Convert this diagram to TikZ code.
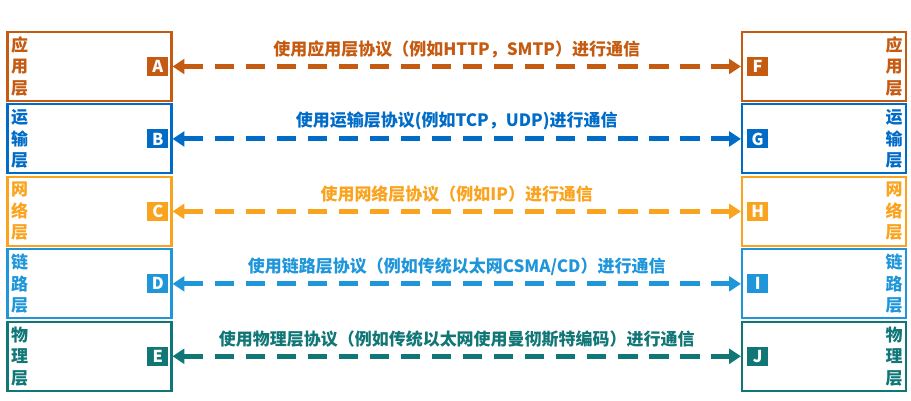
\documentclass[tikz,border=0pt]{standalone}
\usepackage{fontspec}
\setmainfont{Noto Sans CJK SC}
\usetikzlibrary{arrows.meta, positioning}
\definecolor{appc}{RGB}{197,90,17}
\definecolor{trac}{RGB}{0,108,200}
\definecolor{netc}{RGB}{250,163,30}
\definecolor{linkc}{RGB}{32,150,218}
\definecolor{phyc}{RGB}{16,118,118}

\begin{document}
\begin{tikzpicture}[x=0.03cm, y=-0.03cm,
        node distance=0.04cm,
        layer/.style={draw=#1, line width=1.8pt, minimum width=4.92cm, minimum height=2.07cm},
        side/.style={text=#1, font=\fontsize{14.5}{18.4}\selectfont\bfseries, align=center, inner sep=0pt},
        tag/.style={fill=#1, text=white, font=\fontsize{14}{14}\selectfont\bfseries, minimum width=0.63cm, minimum height=0.57cm, inner sep=0pt},
        arr/.style={{Triangle[length=10pt,width=12.5pt]}-{Triangle[length=10pt,width=12.5pt]}, line width=4.2pt, dash pattern=on 16.5pt off 10pt, draw=#1},
        lbl/.style={text=#1, font=\fontsize{14.5}{16}\selectfont\bfseries, above=2pt, midway}
      ]
        \useasboundingbox (0,0) rectangle (911,401);
        % 左侧协议栈
        \node[layer=appc] (la) at (89.5,66.5) {};
        \node[layer=trac, below=of la] (lb) {};
        \node[layer=netc, below=of lb] (lc) {};
        \node[layer=linkc, below=of lc] (ld) {};
        \node[layer=phyc, below=of ld] (le) {};
        % 右侧协议栈
        \node[layer=appc] (ra) at (824,66.5) {};
        \node[layer=trac, below=of ra] (rb) {};
        \node[layer=netc, below=of rb] (rc) {};
        \node[layer=linkc, below=of rc] (rd) {};
        \node[layer=phyc, below=of rd] (re) {};
        % 层名
        \node[side=appc, right=0.13cm of la.west] (sa) {应\\用\\层};
        \node[side=trac, right=0.13cm of lb.west] (sb) {运\\输\\层};
        \node[side=netc, right=0.13cm of lc.west] (sc) {网\\络\\层};
        \node[side=linkc, right=0.13cm of ld.west] (sd) {链\\路\\层};
        \node[side=phyc, right=0.13cm of le.west] (se) {物\\理\\层};
        \node[side=appc, left=0.13cm of ra.east] (sf) {应\\用\\层};
        \node[side=trac, left=0.13cm of rb.east] (sg) {运\\输\\层};
        \node[side=netc, left=0.13cm of rc.east] (sh) {网\\络\\层};
        \node[side=linkc, left=0.13cm of rd.east] (si) {链\\路\\层};
        \node[side=phyc, left=0.13cm of re.east] (sj) {物\\理\\层};
        % 字母方块
        \node[tag=appc, left=0.12cm of la.east] (A) {A};
        \node[tag=trac, left=0.12cm of lb.east] (B) {B};
        \node[tag=netc, left=0.12cm of lc.east] (C) {C};
        \node[tag=linkc, left=0.12cm of ld.east] (D) {D};
        \node[tag=phyc, left=0.12cm of le.east] (E) {E};
        \node[tag=appc, right=0.18cm of ra.west] (F) {F};
        \node[tag=trac, right=0.18cm of rb.west] (G) {G};
        \node[tag=netc, right=0.18cm of rc.west] (H) {H};
        \node[tag=linkc, right=0.18cm of rd.west] (I) {I};
        \node[tag=phyc, right=0.18cm of re.west] (J) {J};
        % 对等层通信
        \draw[arr=appc] (la) -- node[lbl=appc] (ta) {使用应用层协议（例如HTTP，SMTP）进行通信} (ra);
        \draw[arr=trac] (lb) -- node[lbl=trac] (tb) {使用运输层协议(例如TCP，UDP)进行通信} (rb);
        \draw[arr=netc] (lc) -- node[lbl=netc] (tc) {使用网络层协议（例如IP）进行通信} (rc);
        \draw[arr=linkc] (ld) -- node[lbl=linkc] (td) {使用链路层协议（例如传统以太网CSMA/CD）进行通信} (rd);
        \draw[arr=phyc] (le) -- node[lbl=phyc] (te) {使用物理层协议（例如传统以太网使用曼彻斯特编码）进行通信} (re);
      \end{tikzpicture}
\end{document}
